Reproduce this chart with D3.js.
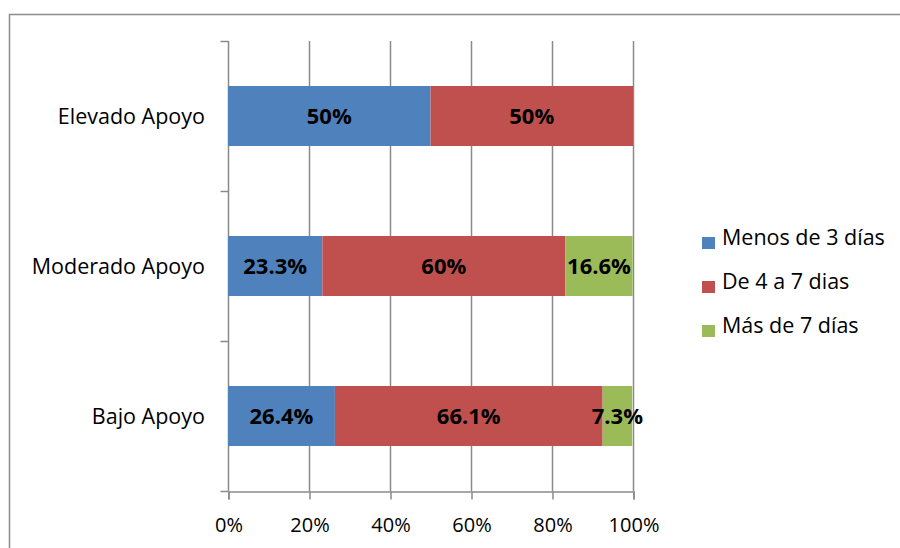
<!DOCTYPE html>
<html>
<head>
<meta charset="utf-8">
<script src="https://cdn.jsdelivr.net/npm/d3@7"></script>
<style>
  html, body { margin: 0; padding: 0; background: #fff; }
  svg { display: block; }
  text { font-family: "Open Sans", Lato, sans-serif; fill: #000; }
</style>
</head>
<body>
<svg id="chart" width="900" height="548"></svg>
<script>
// Apoyo levels, top to bottom
const categories = ["Elevado Apoyo", "Moderado Apoyo", "Bajo Apoyo"];
const seriesNames = ["Menos de 3 días", "De 4 a 7 dias", "Más de 7 días"];
const seriesColors = ["#4F81BD", "#C0504D", "#9BBB59"];
const menos3 = [50, 23.3, 26.4];
const de4a7 = [50, 60, 66.1];
const mas7 = [0, 16.6, 7.3];
const labelsMenos3 = ["50%", "23.3%", "26.4%"];
const labelsDe4a7 = ["50%", "60%", "66.1%"];
const labelsMas7 = ["", "16.6%", "7.3%"];
const xTicks = [0, 20, 40, 60, 80, 100];

const fontFamily = "'Open Sans', Lato, sans-serif";
const textSize = 21.5;   // category names and legend
const tickSize = 20;     // axis tick labels
const valueSize = 22;    // bold value labels

const svg = d3.select("#chart");

// outer chart frame
svg.append("rect")
  .attr("x", 9.5).attr("y", 14.5)
  .attr("width", 1000).attr("height", 1000)
  .attr("fill", "none").attr("stroke", "#8c8c8c").attr("stroke-width", 1.5);

const plotLeft = 228, plotRight = 633, plotTop = 41, plotBottom = 491;

const x = d3.scaleLinear().domain([0, 100]).range([plotLeft, plotRight]);
const y = d3.scaleBand().domain(categories).range([plotTop, plotBottom]).paddingInner(0.6).paddingOuter(0.3);
const yOuter = d3.scaleBand().domain(categories).range([plotTop, plotBottom]);

const gridColor = "#8a8a8a";

// vertical gridlines
svg.append("g").selectAll("line").data(xTicks.slice(1)).join("line")
  .attr("x1", d => x(d) + 0.5).attr("x2", d => x(d) + 0.5)
  .attr("y1", plotTop).attr("y2", plotBottom)
  .attr("stroke", gridColor).attr("stroke-width", 1.5);

// x axis
const xAxis = svg.append("g")
  .attr("transform", `translate(0.5,${plotBottom + 0.5})`)
  .call(d3.axisBottom(x).tickValues(xTicks).tickFormat(d => d + "%").tickSize(8).tickPadding(18));
xAxis.select(".domain").attr("stroke", gridColor).attr("stroke-width", 1.5);
xAxis.selectAll(".tick line").attr("stroke", gridColor).attr("stroke-width", 1.5);
xAxis.selectAll("text").attr("font-size", tickSize).style("font-family", fontFamily).attr("fill", "#000");

// y axis with boundary ticks
const yAxisG = svg.append("g").attr("transform", `translate(${plotLeft + 0.5},0)`);
yAxisG.append("line").attr("y1", plotTop).attr("y2", plotBottom)
  .attr("stroke", gridColor).attr("stroke-width", 1.5);
const boundaries = categories.map(c => yOuter(c)).concat([plotBottom]);
yAxisG.selectAll("line.tk").data(boundaries).join("line").attr("class", "tk")
  .attr("x1", -8).attr("x2", 0)
  .attr("y1", d => d + 0.5).attr("y2", d => d + 0.5)
  .attr("stroke", gridColor).attr("stroke-width", 1.5);

// category labels
svg.append("g").selectAll("text").data(categories).join("text")
  .attr("x", 205)
  .attr("y", d => y(d) + y.bandwidth() / 2)
  .attr("dy", "0.35em")
  .attr("text-anchor", "end")
  .attr("font-size", textSize)
  .text(d => d);

// stacked bars
const rows = categories.map((c, i) => ({ cat: c, values: [menos3[i], de4a7[i], mas7[i]], labels: [labelsMenos3[i], labelsDe4a7[i], labelsMas7[i]] }));
const segs = [];
rows.forEach(r => {
  let acc = 0;
  r.values.forEach((v, k) => {
    segs.push({ cat: r.cat, k, x0: acc, x1: acc + v, label: r.labels[k] });
    acc += v;
  });
});

svg.append("g").selectAll("rect").data(segs.filter(s => s.x1 > s.x0)).join("rect")
  .attr("x", d => x(d.x0))
  .attr("width", d => x(d.x1) - x(d.x0))
  .attr("y", d => y(d.cat))
  .attr("height", y.bandwidth())
  .attr("fill", d => seriesColors[d.k]);

svg.append("g").selectAll("text").data(segs.filter(s => s.label)).join("text")
  .attr("x", d => (x(d.x0) + x(d.x1)) / 2)
  .attr("y", d => y(d.cat) + y.bandwidth() / 2)
  .attr("dy", "0.38em")
  .attr("text-anchor", "middle")
  .attr("font-size", valueSize)
  .attr("font-weight", "bold")
  .text(d => d.label);

// legend
const legend = svg.append("g").attr("transform", "translate(702,245)");
const li = legend.selectAll("g").data(seriesNames).join("g")
  .attr("transform", (d, i) => `translate(0,${i * 44})`);
li.append("rect").attr("x", 0).attr("y", -8).attr("width", 13).attr("height", 12)
  .attr("fill", (d, i) => seriesColors[i]);
li.append("text").attr("x", 20).attr("y", 0)
  .attr("font-size", textSize).text(d => d);
</script>
</body>
</html>
